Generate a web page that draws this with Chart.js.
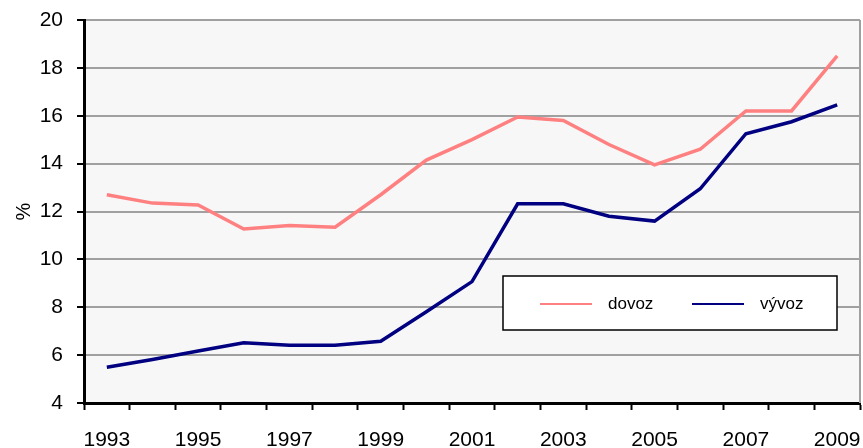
<!DOCTYPE html>
<html>
<head>
<meta charset="utf-8">
<script src="https://cdn.jsdelivr.net/npm/chart.js@4"></script>
<style>
  html, body { margin: 0; padding: 0; background: #fff; }
  #wrap { width: 863px; height: 448px; }
</style>
</head>
<body>
<div id="wrap"><canvas id="myChart"></canvas></div>
<script>
const years = ['1993','1994','1995','1996','1997','1998','1999','2000','2001',
               '2002','2003','2004','2005','2006','2007','2008','2009'];
const dovoz = [12.7, 12.35, 12.27, 11.27, 11.42, 11.34, 12.7, 14.15, 15.0,
               15.95, 15.8, 14.8, 13.95, 14.6, 16.2, 16.2, 18.5];
const vyvoz = [5.49, 5.82, 6.17, 6.52, 6.41, 6.41, 6.58, 7.81, 9.07,
               12.32, 12.32, 11.8, 11.6, 12.95, 15.25, 15.75, 16.45];
const yTicks = [4, 6, 8, 10, 12, 14, 16, 18, 20];

const FONT = 'Liberation Sans, Arial, sans-serif';

// plot background + gray right border
const plotFrame = {
    id: 'plotFrame',
    beforeDraw(chart) {
        const {ctx, chartArea: a} = chart;
        ctx.save();
        ctx.fillStyle = '#f7f7f7';
        ctx.fillRect(a.left, a.top, a.right - a.left, a.bottom - a.top);
        ctx.restore();
    },
    beforeDatasetsDraw(chart) {
        const {ctx, chartArea: a} = chart;
        ctx.save();
        ctx.strokeStyle = '#a0a0a0';
        ctx.lineWidth = 2;
        ctx.beginPath();
        ctx.moveTo(a.right, a.top);
        ctx.lineTo(a.right, a.bottom);
        ctx.stroke();
        ctx.restore();
    }
};

// legend drawn inside the plot, boxed
const boxLegend = {
    id: 'boxLegend',
    afterDatasetsDraw(chart) {
        const {ctx} = chart;
        const x = 503, y = 276, w = 334, h = 54;
        ctx.save();
        ctx.fillStyle = '#fff';
        ctx.fillRect(x, y, w, h);
        ctx.strokeStyle = '#000';
        ctx.lineWidth = 1.5;
        ctx.strokeRect(x, y, w, h);
        ctx.font = '17px ' + FONT;
        ctx.textBaseline = 'middle';
        const cy = y + h / 2 + 1;
        const items = [[37, 105], [189, 257]];
        chart.data.datasets.forEach((ds, i) => {
            const [lx, tx] = items[i];
            ctx.strokeStyle = ds.borderColor;
            ctx.lineWidth = 2;
            ctx.beginPath();
            ctx.moveTo(x + lx, cy);
            ctx.lineTo(x + lx + 52, cy);
            ctx.stroke();
            ctx.fillStyle = '#000';
            ctx.fillText(ds.label, x + tx, cy);
        });
        ctx.restore();
    }
};

new Chart(document.getElementById('myChart'), {
    type: 'line',
    data: {
        labels: years,
        datasets: [{
            label: 'dovoz',
            data: dovoz,
            borderColor: '#ff8080',
            borderWidth: 3.5,
            pointRadius: 0,
            tension: 0
        }, {
            label: 'vývoz',
            data: vyvoz,
            borderColor: '#000080',
            borderWidth: 3.5,
            pointRadius: 0,
            tension: 0
        }]
    },
    options: {
        responsive: true,
        maintainAspectRatio: false,
        animation: false,
        layout: { padding: { top: 20, right: 3, left: 0, bottom: 0 } },
        plugins: {
            legend: { display: false },
            tooltip: { enabled: false }
        },
        scales: {
            x: {
                type: 'category',
                offset: true,
                afterFit: s => { s.height = 45; s.paddingLeft = 0; s.paddingRight = 0; },
                grid: {
                    offset: true,
                    drawOnChartArea: false,
                    drawTicks: true,
                    tickLength: 7,
                    tickColor: '#000',
                    tickWidth: 2
                },
                border: { color: '#000', width: 3 },
                ticks: {
                    autoSkip: false,
                    maxRotation: 0,
                    padding: 18,
                    color: '#000',
                    font: { family: FONT, size: 21 },
                    callback: (v, i) => (i % 2 === 0 ? years[i] : '')
                }
            },
            y: {
                min: 4,
                max: 20,
                afterFit: s => { s.width = 84; s.paddingTop = 0; s.paddingBottom = 0; },
                afterBuildTicks: s => { s.ticks = yTicks.map(v => ({value: v})); },
                grid: {
                    color: '#a0a0a0',
                    lineWidth: 2,
                    tickColor: '#000',
                    tickWidth: 2,
                    tickLength: 7
                },
                border: { color: '#000', width: 3 },
                ticks: {
                    padding: 14,
                    color: '#000',
                    font: { family: FONT, size: 21 }
                },
                title: {
                    display: true,
                    text: '%',
                    color: '#000',
                    font: { family: FONT, size: 20 },
                    padding: { top: 12, bottom: 0 }
                }
            }
        }
    },
    plugins: [plotFrame, boxLegend]
});
</script>
</body>
</html>
